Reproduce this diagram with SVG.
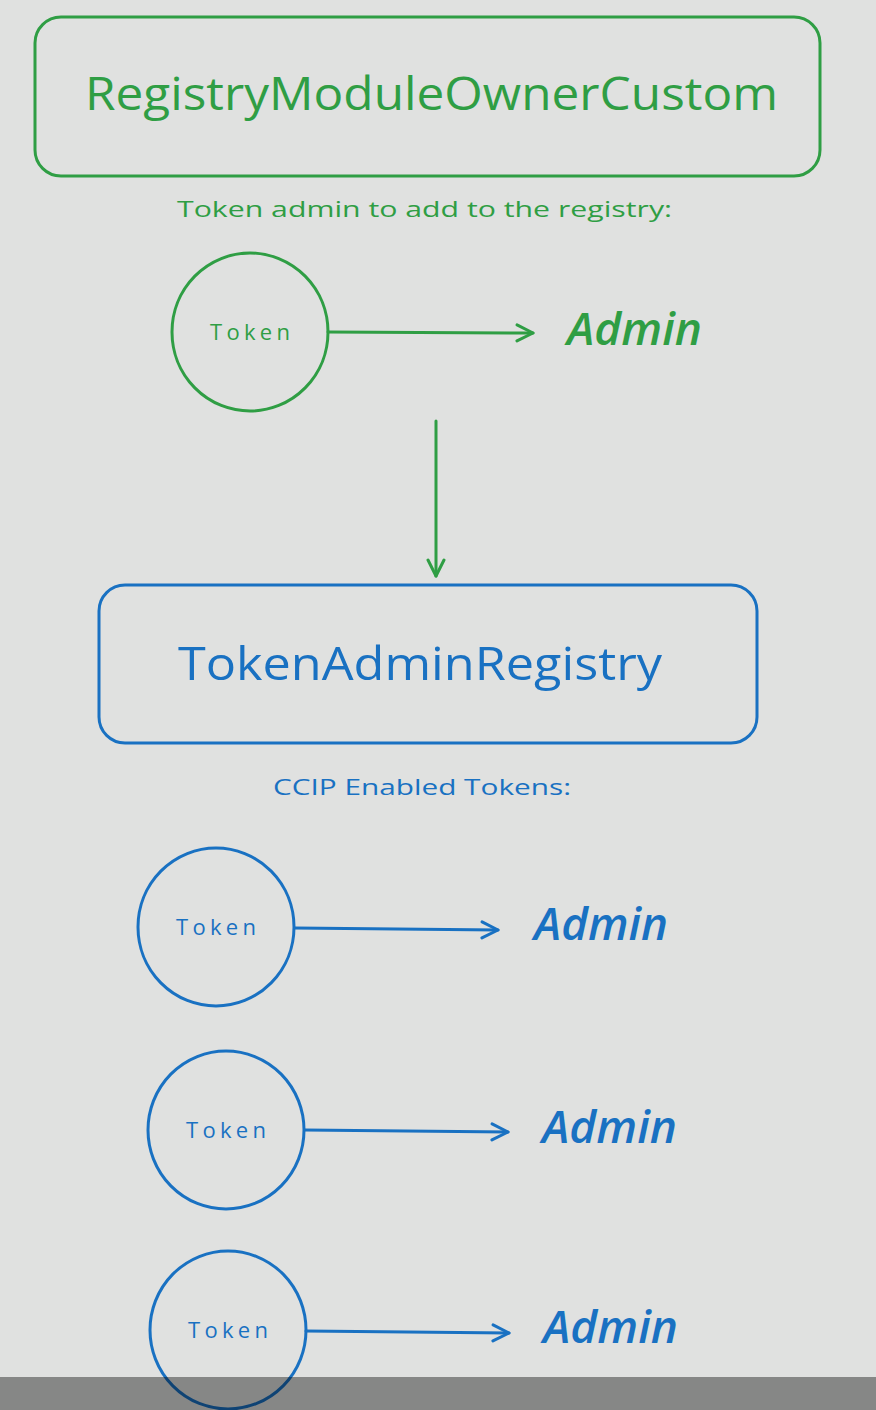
<svg xmlns="http://www.w3.org/2000/svg" width="876" height="1410" viewBox="0 0 876 1410">
<style>
.g{stroke:#2f9e44;fill:none;stroke-width:3;stroke-linecap:round;stroke-linejoin:round}
.b{stroke:#1971c2;fill:none;stroke-width:3;stroke-linecap:round;stroke-linejoin:round}
.tg{fill:#2f9e44;font-family:"Open Sans","Liberation Sans",sans-serif}
.tb{fill:#1971c2;font-family:"Open Sans","Liberation Sans",sans-serif}
.big{font-size:46px}
.sub{font-size:22px}
.tok{font-size:22px;text-anchor:middle}
.adm{font-size:46px;font-style:italic;font-weight:600}
</style>
<defs>
<marker id="ag" viewBox="0 0 20 20" refX="18" refY="10" markerWidth="20" markerHeight="20" markerUnits="userSpaceOnUse" orient="auto"><path d="M2 2 L18 10 L2 18" fill="none" stroke="#2f9e44" stroke-width="3" stroke-linecap="round" stroke-linejoin="round"/></marker>
<marker id="ab" viewBox="0 0 20 20" refX="18" refY="10" markerWidth="20" markerHeight="20" markerUnits="userSpaceOnUse" orient="auto"><path d="M2 2 L18 10 L2 18" fill="none" stroke="#1971c2" stroke-width="3" stroke-linecap="round" stroke-linejoin="round"/></marker>
</defs>
<rect x="0" y="0" width="876" height="1410" fill="#e0e1e0"/>

<g id="registryModuleOwnerCustom">
<rect class="g" x="35" y="17" width="785" height="159" rx="26"/>
<text class="tg big" x="85" y="110" textLength="693" lengthAdjust="spacingAndGlyphs">RegistryModuleOwnerCustom</text>
</g>
<g id="label-top">
<text class="tg sub" x="177" y="217" textLength="495" lengthAdjust="spacingAndGlyphs">Token admin to add to the registry:</text>
</g>
<g id="token-top">
<ellipse class="g" cx="250" cy="332" rx="78" ry="79"/>
<text class="tg tok" x="250" y="340" textLength="80" lengthAdjust="spacing">Token</text>
</g>
<g id="admin-top">
<text class="tg adm" x="567" y="345" textLength="135" lengthAdjust="spacingAndGlyphs">Admin</text>
</g>

<g id="tokenAdminRegistry">
<rect class="b" x="99" y="585" width="658" height="158" rx="26"/>
<text class="tb big" x="178" y="680" textLength="484" lengthAdjust="spacingAndGlyphs">TokenAdminRegistry</text>
</g>
<g id="label-ccip">
<text class="tb sub" x="273" y="795" textLength="298" lengthAdjust="spacingAndGlyphs">CCIP Enabled Tokens:</text>
</g>

<g id="token-1">
<ellipse class="b" cx="216" cy="927" rx="78" ry="79"/>
<text class="tb tok" x="216" y="935" textLength="80" lengthAdjust="spacing">Token</text>
</g>
<g id="admin-1">
<text class="tb adm" x="534" y="940" textLength="134" lengthAdjust="spacingAndGlyphs">Admin</text>
</g>

<g id="token-2">
<ellipse class="b" cx="226" cy="1130" rx="78" ry="79"/>
<text class="tb tok" x="226" y="1138" textLength="80" lengthAdjust="spacing">Token</text>
</g>
<g id="admin-2">
<text class="tb adm" x="542" y="1143" textLength="135" lengthAdjust="spacingAndGlyphs">Admin</text>
</g>

<g id="token-3">
<ellipse class="b" cx="228" cy="1330" rx="78" ry="79"/>
<text class="tb tok" x="228" y="1338" textLength="80" lengthAdjust="spacing">Token</text>
</g>
<g id="admin-3">
<text class="tb adm" x="543" y="1343" textLength="135" lengthAdjust="spacingAndGlyphs">Admin</text>
</g>

<g id="connectors">
<line class="g" x1="328" y1="332" x2="533" y2="333" marker-end="url(#ag)"/>
<line class="g" x1="436" y1="421" x2="436" y2="576" marker-end="url(#ag)"/>
<line class="b" x1="295" y1="928" x2="498" y2="930" marker-end="url(#ab)"/>
<line class="b" x1="305" y1="1130" x2="508" y2="1132" marker-end="url(#ab)"/>
<line class="b" x1="306" y1="1331" x2="509" y2="1333" marker-end="url(#ab)"/>
</g>

<rect x="0" y="1377" width="876" height="33" fill="#000000" fill-opacity="0.4"/>
</svg>
